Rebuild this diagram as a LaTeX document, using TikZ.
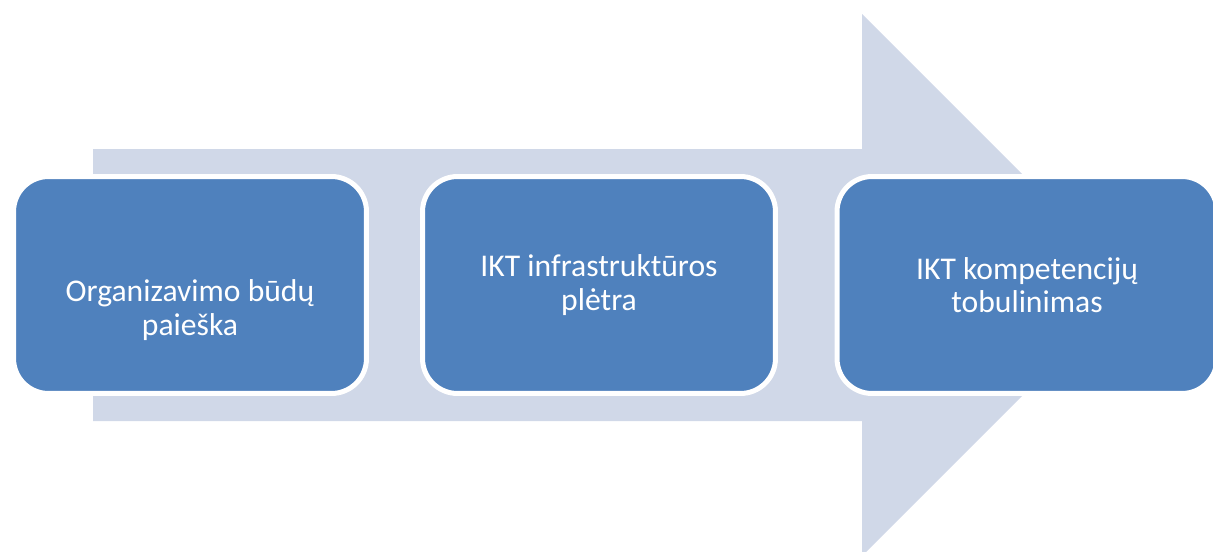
\documentclass[tikz,border=0pt]{standalone}
\usepackage{fontspec}
\setmainfont{Carlito}
\definecolor{shaftgray}{HTML}{D0D8E8}
\definecolor{stageblue}{HTML}{4F81BD}
\tikzset{
  stage/.style={draw=white, line width=0.1cm, fill=stageblue, rounded corners=0.7cm,
    minimum width=7.06cm, minimum height=4.34cm, text=white, align=center,
    font=\fontsize{18}{19}\selectfont},
  caption/.style={text=white, align=center, font=\fontsize{18}{19}\selectfont}
}
\begin{document}
\begin{tikzpicture}[x=0.02cm, y=-0.02cm]
  \useasboundingbox (0,0) rectangle (1213,551);
  \clip (0,0) rectangle (1213,551);
  % big background arrow
  \fill[shaftgray] (93,149) -- (862,149) -- (862,14) -- (1133,285)
    -- (862,556) -- (862,421) -- (93,421) -- cycle;
  % stages
  \node[stage] (search) at (190,285) {};
  \node[caption] at ([yshift=-0.5cm]search.center) {Organizavimo būdų\\paieška};
  \node[stage] (infra) at (599,285) {IKT infrastruktūros\\plėtra};
  \node[stage, minimum width=7.6cm] (skills) at (1027,285) {IKT kompetencijų\\tobulinimas};
\end{tikzpicture}
\end{document}
